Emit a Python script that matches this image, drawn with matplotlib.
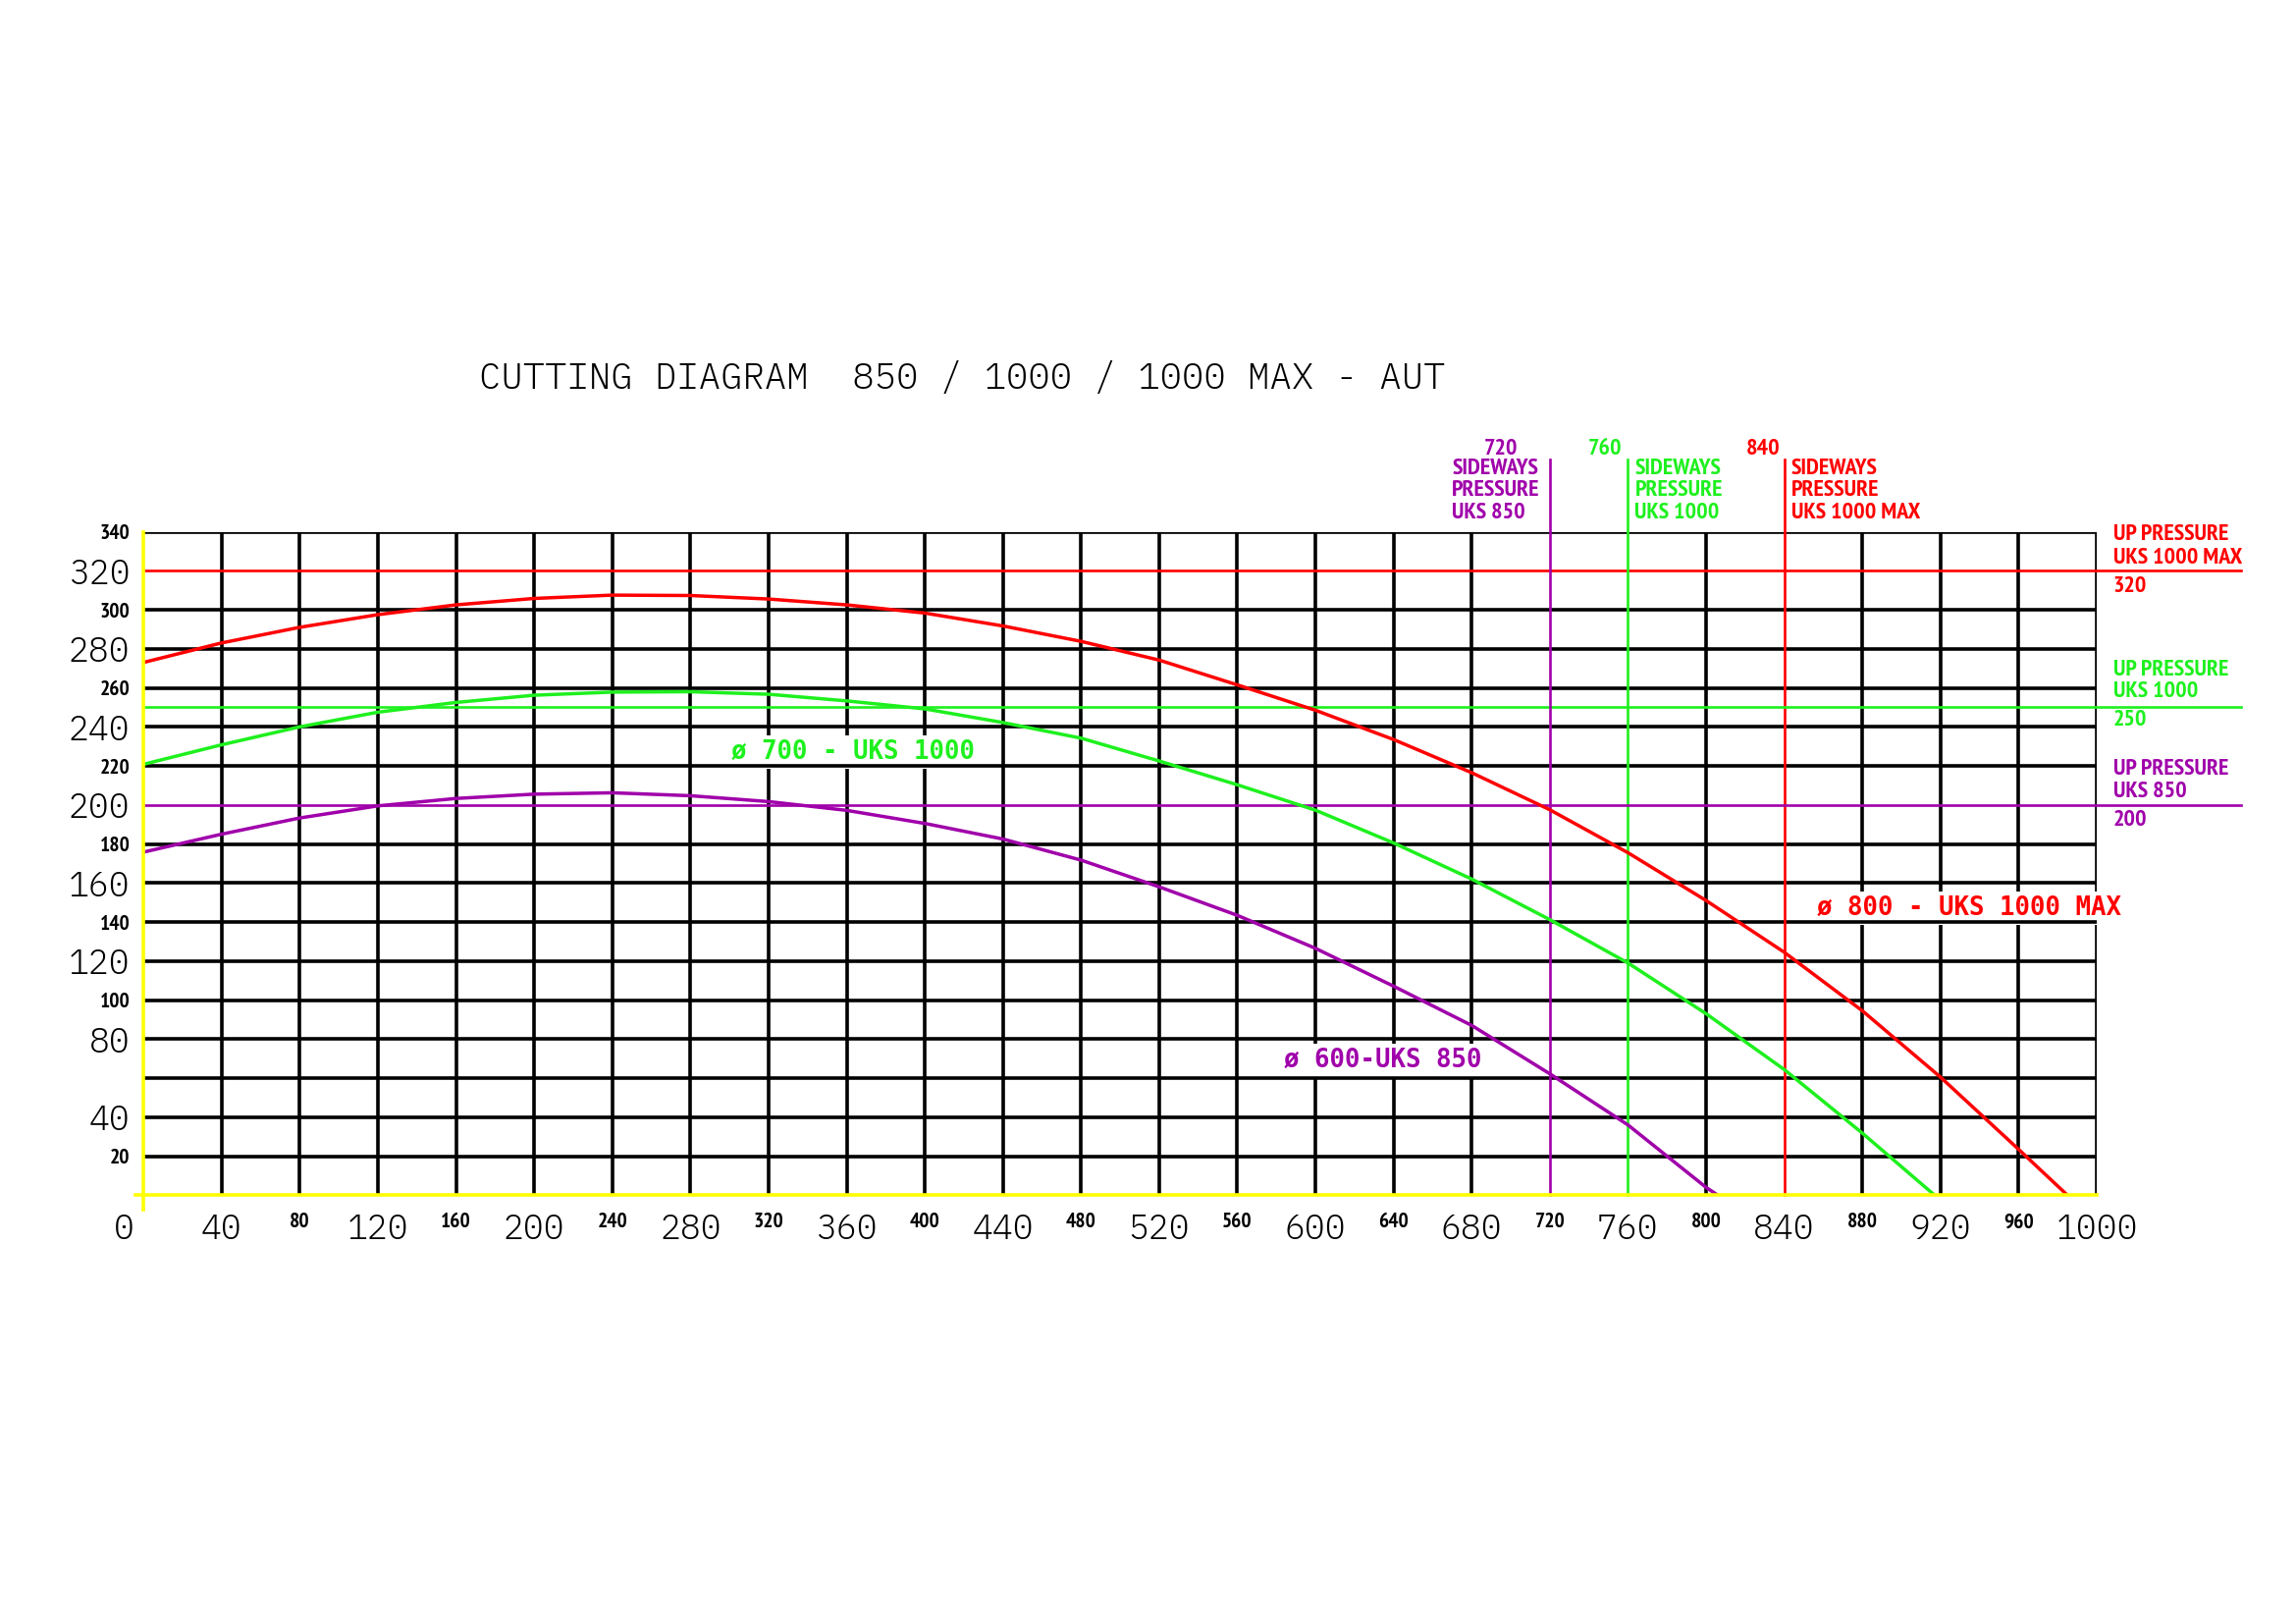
import numpy as np
import matplotlib.pyplot as plt
from matplotlib import font_manager

# cutting curves (width -> height)
d800_x = [0, 40, 80, 120, 160, 200, 240, 280, 320, 360, 400, 440, 480, 520,
          560, 600, 640, 680, 720, 760, 800, 840, 880, 920, 960, 985]
d800_y = [273, 283, 291, 297.5, 302.5, 305.8, 307.5, 307.3, 305.5, 302.5, 298.3,
          291.7, 283.8, 274.2, 261.5, 248.5, 233.5, 216.5, 197.5, 175.5, 151,
          124.5, 94.5, 60.5, 23.5, 0]
d700_x = [0, 40, 80, 120, 160, 200, 240, 280, 320, 360, 400, 440, 480, 520,
          560, 600, 640, 680, 720, 760, 800, 840, 880, 917]
d700_y = [220.8, 230.8, 240, 247.5, 252.5, 256.2, 257.8, 258, 256.7, 253.3, 249.2,
          242.2, 234.2, 222.5, 210.3, 197.3, 180.5, 162, 141.2, 119, 93, 64.4,
          31.8, 0]
d600_x = [0, 40, 80, 120, 160, 200, 240, 280, 320, 360, 400, 440, 480, 520,
          560, 600, 640, 680, 720, 760, 800, 806]
d600_y = [175.8, 185, 193.3, 199.5, 203.3, 205.5, 206.2, 204.7, 201.7, 197.2, 190.5,
          182.5, 171.7, 158, 143.4, 126.5, 107.1, 87, 62.2, 36, 4, 0]

# machine limits
models = ['UKS 1000 MAX', 'UKS 1000', 'UKS 850']
up_pressure = [320, 250, 200]
sideways = [840, 760, 720]
curve_labels = ['\u00f8 800 - UKS 1000 MAX', '\u00f8 700 - UKS 1000', '\u00f8 600-UKS 850']

x_big = list(range(40, 1001, 80))
x_small = list(range(80, 961, 80))
y_big = list(range(40, 321, 40))
y_small = [20, 100, 140, 180, 220, 260, 300, 340]

RED = '#ff0000'
GREEN = '#1ef01e'
PURPLE = '#a000aa'
YELLOW = '#ffff00'
colors = [RED, GREEN, PURPLE]


def pick(*cands):
    names = {f.name for f in font_manager.fontManager.ttflist}
    for c in cands:
        if c in names:
            return c
    return 'DejaVu Sans'


narrow = pick('PT Sans Narrow', 'Liberation Sans Narrow', 'Liberation Sans')
cad = pick('IBM Plex Mono', 'DejaVu Sans Mono')
cad_w = 300 if cad == 'IBM Plex Mono' else 'normal'
mono = 'DejaVu Sans Mono'

fig = plt.figure(figsize=(23.39, 16.53), dpi=100)
ax = fig.add_axes([0.0625, 0.2636, 0.8507, 0.4088])
ax.set_xlim(0, 1000)
ax.set_ylim(0, 340)
for s in ax.spines.values():
    s.set_visible(False)

# black grid (colored limit lines take the place of some grid lines)
vgrid = [v for v in range(40, 1001, 40) if v not in sideways]
hgrid = [v for v in range(20, 341, 20) if v not in up_pressure]
ax.vlines(vgrid, 0, 340, color='black', lw=2.6, zorder=1)
ax.hlines(hgrid, 0, 1000, color='black', lw=2.6, zorder=3)

# limit lines
for c, up, sw in zip(colors, up_pressure, sideways):
    ax.plot([0, 1074], [up, up], color=c, lw=1.9, zorder=3, clip_on=False)
    ax.plot([sw, sw], [0, 377], color=c, lw=1.9, zorder=3, clip_on=False)

# cutting curves
ax.plot(d800_x, d800_y, color=RED, lw=2.5, zorder=4)
ax.plot(d700_x, d700_y, color=GREEN, lw=2.5, zorder=4)
ax.plot(d600_x, d600_y, color=PURPLE, lw=2.5, zorder=4)

# yellow axes
ax.plot([-4, 1000], [0, 0], color=YELLOW, lw=2.6, zorder=5, clip_on=False)
ax.plot([0, 0], [-7.5, 340], color=YELLOW, lw=2.6, zorder=5, clip_on=False)

# ticks
big = dict(fontsize=25, family=cad, fontweight=cad_w)
small = dict(fontsize=15.5, family=narrow, fontweight='bold')
ax.set_xticks(x_big, [str(v) for v in x_big], **big)
ax.set_xticks(x_small, [str(v) for v in x_small], minor=True, **small)
ax.set_yticks(y_big, [str(v) for v in y_big], **big)
ax.set_yticks(y_small, [str(v) for v in y_small], minor=True, **small)
ax.tick_params(axis='x', which='both', length=0, pad=13)
ax.tick_params(axis='y', which='both', length=0, pad=10)
ax.text(-10, -9.0, '0', ha='center', va='top', **big)

# title
ax.text(172, 413, 'CUTTING DIAGRAM  850 / 1000 / 1000 MAX - AUT', fontsize=26.8,
        family=cad, fontweight=cad_w, ha='left', va='baseline')

# sideways pressure notes
side_txt = dict(fontsize=17.3, family=narrow, fontweight='bold', va='center')
ax.text(695, 382.4, '720', color=PURPLE, ha='center', **side_txt)
ax.text(757, 382.4, '760', color=GREEN, ha='right', **side_txt)
ax.text(838, 382.4, '840', color=RED, ha='right', **side_txt)
for x0, c, m in [(670, PURPLE, 'UKS 850'), (763.5, GREEN, 'UKS 1000'),
                 (843.7, RED, 'UKS 1000 MAX')]:
    for yy, line in zip([372, 361, 349.6], ['SIDEWAYS', 'PRESSURE', m]):
        ax.text(x0, yy, line, color=c, ha='left', **side_txt)

# up pressure notes
for c, m, up, ys in [(RED, 'UKS 1000 MAX', 320, (338.5, 326.6, 311.7)),
                     (GREEN, 'UKS 1000', 250, (269, 258, 243.3)),
                     (PURPLE, 'UKS 850', 200, (218.2, 206.7, 192.2))]:
    for yy, line in zip(ys, ['UP PRESSURE', m, str(up)]):
        ax.text(1008.5, yy, line, color=c, ha='left', **side_txt)

# curve labels
box = dict(facecolor='white', edgecolor='none', pad=3)
for (lx, ly), c, lab in zip([(857, 143.5), (301, 223.5), (584, 65.5)], colors, curve_labels):
    ax.text(lx, ly, lab, color=c, fontsize=18.5, family=mono, fontweight='bold',
            ha='left', va='baseline', bbox=box, zorder=2)

fig.savefig('out.png', dpi=100, facecolor='white')
